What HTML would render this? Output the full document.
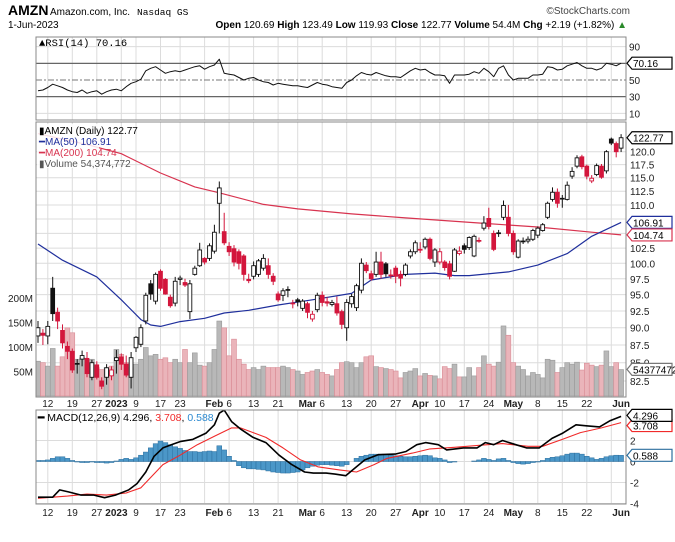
<!DOCTYPE html>
<html><head><meta charset="utf-8"><style>
html,body{margin:0;padding:0;background:#fff;}
svg{display:block;font-family:"Liberation Sans",Arial,sans-serif;}
</style></head><body>
<svg id="chart" width="675" height="542" viewBox="0 0 675 542" xmlns="http://www.w3.org/2000/svg">
<g>
<text x="8" y="15" font-size="14" font-weight="bold">AMZN</text>
<text x="50" y="15" font-size="10" textLength="80" lengthAdjust="spacingAndGlyphs">Amazon.com, Inc.</text>
<text x="137" y="15" font-size="9.5" font-family="Liberation Mono, monospace">Nasdaq GS</text>
<text x="630" y="14" font-size="10" text-anchor="end" fill="#444">©StockCharts.com</text>
<text x="8" y="28" font-size="10">1-Jun-2023</text>
<text x="627" y="28" font-size="10" text-anchor="end"><tspan font-weight="bold">Open</tspan> 120.69 <tspan font-weight="bold">High</tspan> 123.49 <tspan font-weight="bold">Low</tspan> 119.93 <tspan font-weight="bold">Close</tspan> 122.77 <tspan font-weight="bold">Volume</tspan> 54.4M <tspan font-weight="bold">Chg</tspan> +2.19 (+1.82%) <tspan fill="#2a8a2a">▲</tspan></text>
</g>
<g id="rsi"></g>
<g id="price"></g>
<g id="macd"></g>
</svg>
<script>
// ---- data ----
const tickIdx = [2,7,12,16,20,25,29,36,39,44,49,55,58,63,68,73,78,82,87,92,97,102,107,112,119];
const tickLabels = ["12","19","27","2023","9","17","23","Feb","6","13","21","Mar","6","13","20","27","Apr","10","17","24","May","8","15","22","Jun"];
const tickBold = [0,0,0,1,0,0,0,1,0,0,0,1,0,0,0,0,1,0,0,0,1,0,0,0,1];
const gridIdx = [2,7,12,17,20,25,29,34,39,44,49,53,58,63,68,73,78,82,87,92,97,102,107,112,117];

const opens = [88.8,89.2,88.8,96.0,92.3,89.6,87.3,86.6,84.8,85.5, 85.6,83.0,84.7,82.5,83.0,83.2,85.3,85.8,84.8,83.0, 87.1,87.6,91.0,96.7,94.0,98.7,97.4,94.6,93.7,97.4, 96.9,92.4,98.2,99.6,100.8,100.8,102.0,110.3,105.3,102.8, 102.4,101.9,101.2,97.4,97.9,98.2,99.2,99.6,97.9,95.1, 94.9,95.7,93.7,94.2,92.9,93.6,91.3,92.7,94.9,93.9, 93.5,93.6,92.4,90.0,93.6,93.0,95.7,99.7,98.3,98.2, 100.2,99.9,98.1,99.2,98.2,98.2,101.2,101.9,102.3,102.7, 104.0,100.2,100.2,100.2,99.9,98.7,101.6,102.9,102.6,101.2, 103.8,105.9,107.6,105.0,105.1,107.8,107.8,105.0,101.0,103.6, 103.7,104.0,104.7,105.5,107.8,111.0,112.3,111.2,111.0,115.3, 117.2,119.0,117.2,114.4,115.6,117.2,116.3,122.5,121.6,120.7];
const closes = [90.0,88.9,90.2,92.1,91.0,87.8,86.6,84.0,84.9,86.0, 83.5,85.0,83.0,81.8,84.3,84.0,85.7,84.8,83.3,85.7, 88.6,90.0,94.9,95.1,98.2,96.0,95.1,93.3,97.1,97.6, 96.5,96.7,99.2,102.2,100.2,102.9,105.2,113.1,103.4,101.9, 100.2,100.0,98.2,97.2,99.6,100.4,100.8,98.2,97.1,94.2, 95.6,95.8,93.6,93.9,94.0,92.3,92.0,94.9,93.8,93.7, 93.8,92.2,90.5,93.8,94.7,96.4,100.0,98.8,97.5,100.2, 98.2,98.3,98.0,97.9,97.6,99.7,101.9,103.4,102.2,104.0, 100.8,102.2,101.9,99.3,97.9,102.2,102.0,102.3,104.3,104.5, 103.7,106.8,106.2,102.3,105.0,109.9,105.0,101.9,103.7,103.7, 104.0,105.5,105.9,106.5,110.3,112.3,110.3,111.1,113.6,116.2, 118.8,117.1,115.3,114.9,117.3,115.1,120.0,121.7,120.0,122.77];
const highs = [91.0,89.8,91.0,97.8,93.0,90.5,88.0,87.0,85.5,86.7, 86.5,85.4,85.2,83.0,84.8,84.5,86.8,86.3,86.0,86.5, 88.8,90.5,95.3,97.3,98.5,99.0,97.6,95.0,97.8,98.0, 97.5,97.3,99.6,103.4,101.0,103.3,106.5,114.3,108.6,103.5, 103.0,102.3,101.5,98.3,100.3,100.7,101.5,100.8,98.4,95.5, 96.0,96.3,94.2,94.5,94.3,93.9,92.5,95.3,95.5,94.6, 94.2,94.7,92.7,94.3,95.1,96.7,100.8,100.2,98.8,101.9, 101.9,100.2,99.0,99.6,98.8,100.0,102.3,103.8,103.5,104.3, 104.3,102.5,102.5,100.5,100.4,102.5,102.8,103.3,104.5,104.8, 104.3,108.0,109.5,105.5,105.6,110.8,110.0,105.5,104.0,104.3, 104.5,105.8,106.2,106.8,110.6,113.2,113.0,111.8,114.3,117.0, 119.3,119.4,117.5,115.5,117.7,117.6,120.3,122.8,122.0,123.49];
const lows = [87.8,87.5,87.6,91.0,89.8,87.0,85.5,83.6,83.5,84.5, 83.0,82.6,82.7,81.4,82.0,82.6,83.5,84.0,83.0,81.5, 86.5,87.2,90.5,94.2,93.5,95.6,95.0,93.0,93.2,96.5, 96.2,91.3,98.0,99.4,99.8,100.4,101.6,105.0,103.0,101.2, 99.5,99.0,97.2,96.8,97.4,97.8,98.8,97.5,96.5,93.9, 94.0,94.6,92.9,93.2,92.5,91.4,90.9,92.3,93.2,93.2, 93.2,91.8,89.8,88.1,93.0,92.5,95.2,98.4,97.2,97.8, 97.5,97.8,97.5,96.8,96.3,97.9,100.8,101.5,101.7,102.3, 100.5,99.4,99.8,98.8,97.4,98.6,101.3,101.6,102.2,101.0, 103.4,105.5,105.7,102.0,104.4,107.3,104.5,101.4,100.8,103.2, 103.3,103.7,104.2,105.3,107.5,110.6,109.5,109.5,110.8,114.8, 116.8,116.6,114.7,114.0,115.3,114.8,115.8,121.3,118.9,119.93];
const volumes = [71,68,61,97,61,80,139,129,75,78, 65,75,58,54,58,61,95,85,68,58, 65,75,99,82,85,75,78,68,75,68, 95,68,88,63,61,68,95,153,139,82, 116,75,65,54,58,54,61,58,58,58, 61,58,54,51,44,48,51,54,48,44, 41,54,68,70,68,58,68,80,82,60, 58,56,54,51,37,48,51,56,41,46, 42,41,35,60,56,65,39,39,58,41, 58,82,65,61,69,143,124,68,61,54, 41,48,44,37,75,73,48,58,68,65, 69,53,67,63,60,63,92,60,68,54];

const ma50Idx = [0,5,12,17,21,23,25,29,34,38,43,49,56,64,68,75,81,85,88,96,102,108,113,119];
const ma50Val = [103.2,100.5,97.8,94.2,91.2,90.4,90.2,90.9,91.4,92.2,92.6,93.4,94.2,95.2,97.3,98.2,98.4,98.0,98.0,98.6,99.7,101.6,104.5,106.91];
const ma200Idx = [0,10,17,25,32,37,46,53,64,75,90,102,113,119];
const ma200Val = [123.6,121.4,119.6,115.9,113.3,112.2,110.1,109.3,108.4,107.7,106.8,106.1,105.2,104.74];

const rsiVals = [37,38,41,45,43,41,38,36,35,38, 34,36,37,33,36,38,39,37,42,46, 48,51,61,64,66,62,58,60,61,60, 62,64,66,67,63,66,68,75,58,57, 56,53,50,52,53,50,48,47,44,46, 45,44,43,43,42,41,44,47,45,44, 42,41,40,47,50,55,59,57,56,59, 57,55,54,54,53,57,61,64,62,63, 59,56,56,55,46,56,56,56,57,60, 58,64,60,54,64,67,56,50,52,52, 52,56,56,57,66,65,62,63,67,69, 71,67,64,64,62,64,70,69,67,70.16];

const macdIdx = [0,3,4.4,6.2,8.8,11.4,13.6,15.8,18.5,20.2,22,23.7,25.5,27.2,29,31.6,34.3,36,37,38,39.5,41.3,43.9,46.5,49.2,51.8,54.4,56.2,58.8,60.6,62.8,65,66.7,69.4,72.9,75.1,77.3,79.1,81.7,83.4,86.8,89.6,91.3,93,94.8,97.5,99.7,102.3,104.9,107.1,109.8,111.9,114.6,116.8,119];
const macdVal = [-3.4,-3.4,-2.7,-2.9,-3.2,-3.2,-3.45,-3.2,-2.7,-2.1,-1.0,0.5,1.3,1.6,1.9,2.1,2.7,3.5,4.6,4.9,3.8,3.1,2.3,1.8,0.6,-0.3,-1.0,-1.1,-1.1,-1.2,-1.35,-0.5,0.15,0.65,0.7,0.95,1.6,1.8,1.6,1.1,1.3,1.3,1.8,1.6,2.0,1.6,1.3,1.3,2.2,2.7,3.5,3.4,3.3,3.9,4.296];
const sigIdx = [0,6,10,14,18,21,25.5,29,32.5,36,39.5,41.3,46.5,50,53.6,57.1,61.5,65,68.6,71.2,76.4,80,85,90.4,94.8,100,103,107,110.7,115,119];
const sigVal = [-3.5,-3.3,-3.1,-3.2,-3.0,-2.5,-0.3,0.6,1.6,2.4,3.2,3.2,2.3,1.3,0.15,-0.5,-0.8,-1.0,-0.3,0.3,0.8,1.2,1.35,1.55,1.7,1.45,1.45,2.1,2.75,3.2,3.708];
const histVals = [0.1,0.1,0.15,0.3,0.45,0.45,0.3,0.1,-0.05,-0.1, -0.1,-0.05,-0.1,-0.1,-0.15,-0.1,0.05,0.2,0.3,0.2, 0.35,0.6,0.9,1.3,1.7,1.95,1.8,1.6,1.4,1.25, 1.05,0.95,0.95,0.9,0.95,1.0,0.95,1.5,1.1,0.5, 0.1,-0.4,-0.6,-0.7,-0.7,-0.75,-0.8,-0.9,-1.0,-1.05, -1.1,-1.1,-1.05,-1.0,-0.8,-0.6,-0.45,-0.35,-0.3,-0.3, -0.35,-0.4,-0.45,-0.3,0.0,0.3,0.5,0.6,0.7,0.7, 0.7,0.65,0.6,0.55,0.5,0.45,0.45,0.5,0.55,0.6, 0.55,0.35,0.3,0.15,-0.1,-0.05,0.0,0.0,0.0,0.05, 0.15,0.3,0.2,0.1,0.25,0.3,0.1,-0.1,-0.2,-0.25, -0.2,-0.1,-0.05,0.1,0.3,0.4,0.45,0.55,0.7,0.8, 0.8,0.7,0.5,0.35,0.2,0.3,0.45,0.55,0.6,0.588];

const priceTicks = [82.5,85.0,87.5,90.0,92.5,95.0,97.5,100.0,102.5,105.0,107.5,110.0,112.5,115.0,117.5,120.0];
const volTicks = [50,100,150,200];
const rsiTicks = [10,30,50,70,90];
const macdTicks = [-4,-2,0,2];

// ---- scales ----
const NS = "http://www.w3.org/2000/svg";
const L = 36, R = 626;
const xOf = i => 38 + 4.9 * i;
const yPrice = p => 151.7 + (Math.log10(120) - Math.log10(p)) * 1409;
const yVol = v => 396 - v * 0.49;
const yRsi = r => 80 - (r - 50) * 0.833;
const yMacd = m => 461.5 - m * 10.5;

function mk(tag, attrs, parent, text) {
  const e = document.createElementNS(NS, tag);
  for (const k in attrs) e.setAttribute(k, attrs[k]);
  if (text !== undefined) e.textContent = text;
  parent.appendChild(e);
  return e;
}
const svg = document.getElementById('chart');
const gR = document.getElementById('rsi'), gP = document.getElementById('price'), gM = document.getElementById('macd');
const defs = mk('defs', {}, svg);
const cp1 = mk('clipPath', {id: 'clipP'}, defs); mk('rect', {x: L, y: 122, width: R - L, height: 275}, cp1);
const cp2 = mk('clipPath', {id: 'clipM'}, defs); mk('rect', {x: L, y: 410, width: R - L, height: 94}, cp2);

function vgrid(g, y1, y2) {
  gridIdx.forEach(i => {
    const l = mk('line', {x1: xOf(i), x2: xOf(i), y1: y1, y2: y2, stroke: '#dcdcdc', 'stroke-width': 1}, g);
    
    
  });
}
function frame(g, y1, y2, name) {
  const r = mk('rect', {x: L, y: y1, width: R - L, height: y2 - y1, fill: 'none', stroke: '#888', 'stroke-width': 1}, g);
  
  
}
function polyline(g, idx, vals, yf, color, w, name, clip) {
  const pts = idx.map((i, k) => xOf(i).toFixed(1) + ',' + yf(vals[k]).toFixed(1)).join(' ');
  const pl = mk('polyline', {points: pts, fill: 'none', stroke: color, 'stroke-width': w, 'stroke-linejoin': 'round'}, g);
  if (clip) pl.setAttribute('clip-path', clip);
  
  
}
function valueBox(g, y, text, color, name) {
  const grp = mk('g', {}, g);
  
  
  mk('path', {d: `M627 ${y} L632 ${y-6} L672 ${y-6} L672 ${y+6} L632 ${y+6} Z`, fill: '#fff', stroke: color, 'stroke-width': 1.2}, grp);
  mk('text', {x: 633, y: y + 4, 'font-size': 10, fill: '#000'}, grp, text);
}
function dateAxis(g, y, name) {
  const grp = mk('g', {}, g);
  
  
  tickIdx.forEach((i, k) => {
    const t = mk('text', {x: xOf(i), y: y, 'font-size': 10, 'text-anchor': 'middle', 'font-weight': tickBold[k] ? 'bold' : 'normal', fill: '#222'}, grp, tickLabels[k]);
    
    
  });
}

// ---- RSI panel ----
vgrid(gR, 37, 120);
rsiTicks.forEach(r => {
  const isRef = (r === 30 || r === 70);
  const l = mk('line', {x1: L, x2: R, y1: yRsi(r), y2: yRsi(r), stroke: isRef ? '#666' : (r === 50 ? '#777' : '#dcdcdc'), 'stroke-width': isRef ? 1.2 : 1, 'stroke-dasharray': r === 50 ? '6,2,2,2' : 'none'}, gR);
  
  
  if (r !== 70) {
    const t = mk('text', {x: 629, y: yRsi(r) + 4, 'font-size': 10, fill: '#222'}, gR, String(r));
    
    
  }
});
frame(gR, 37, 120, 'rsi-frame');
polyline(gR, rsiVals.map((v, i) => i), rsiVals, yRsi, '#111', 1, 'rsi-line');
valueBox(gR, yRsi(70.16), '70.16', '#000', 'rsi-value-box');
{
  const t = mk('text', {x: 39, y: 46, 'font-size': 10.5, 'font-family': 'Liberation Mono, monospace'}, gR, '▲RSI(14) 70.16');
  
  
}

// ---- Price panel ----
vgrid(gP, 122, 397);
priceTicks.forEach(p => {
  const l = mk('line', {x1: L, x2: R, y1: yPrice(p), y2: yPrice(p), stroke: '#dcdcdc', 'stroke-width': 1}, gP);
  
  
  const t = mk('text', {x: 630, y: yPrice(p) + 4, 'font-size': 10, fill: '#222'}, gP, p.toFixed(1));
  
  
});
volTicks.forEach(v => {
  const t = mk('text', {x: 33, y: yVol(v) + 4, 'font-size': 10, 'text-anchor': 'end', fill: '#222'}, gP, v + 'M');
  
  
});
const gVol = mk('g', {'clip-path': 'url(#clipP)'}, gP);
volumes.forEach((v, i) => {
  const down = i > 0 && closes[i] < closes[i - 1];
  const b = mk('rect', {x: xOf(i) - 2.45, y: yVol(v), width: 4.9, height: v * 0.49, fill: down ? '#eab4ba' : '#b8b8b8', stroke: down ? '#d98a94' : '#999', 'stroke-width': 0.6}, gVol);
  
  
});
polyline(gP, ma200Idx, ma200Val, yPrice, '#d8334f', 1.2, 'ma200-line', 'url(#clipP)');
polyline(gP, ma50Idx, ma50Val, yPrice, '#1f2f9c', 1.2, 'ma50-line', 'url(#clipP)');
const gC = mk('g', {'clip-path': 'url(#clipP)'}, gP);
opens.forEach((o, i) => {
  const c = closes[i];
  const down = i > 0 && c < closes[i - 1];
  const col = down ? '#d3163c' : '#111';
  const x = xOf(i);
  const g = mk('g', {}, gC);
  
  
  mk('line', {x1: x, x2: x, y1: yPrice(highs[i]), y2: yPrice(lows[i]), stroke: col, 'stroke-width': 1}, g);
  const yt = yPrice(Math.max(o, c)), yb = yPrice(Math.min(o, c));
  mk('rect', {x: x - 1.9, y: yt, width: 3.8, height: Math.max(0.8, yb - yt), fill: c < o ? col : '#fff', stroke: col, 'stroke-width': 0.9}, g);
});
frame(gP, 122, 397, 'price-frame');
{
  const lg = mk('g', {}, gP);
  
  
  mk('rect', {x: 37, y: 124, width: 62, height: 44, fill: '#fff', opacity: 0.85}, lg);
  mk('text', {x: 39, y: 134, 'font-size': 10}, lg, '▮AMZN (Daily) 122.77');
  mk('text', {x: 39, y: 145, 'font-size': 10, fill: '#1f2f9c'}, lg, '━MA(50) 106.91');
  mk('text', {x: 39, y: 156, 'font-size': 10, fill: '#d8334f'}, lg, '━MA(200) 104.74');
  mk('text', {x: 39, y: 167, 'font-size': 10, fill: '#555'}, lg, '▮Volume 54,374,772');
}
valueBox(gP, yPrice(122.77), '122.77', '#000', 'close-value-box');
valueBox(gP, yPrice(106.91), '106.91', '#1f2f9c', 'ma50-value-box');
valueBox(gP, yPrice(104.74), '104.74', '#d8334f', 'ma200-value-box');
valueBox(gP, yVol(54.37), '54377472', '#777', 'volume-value-box');
dateAxis(gP, 407, 'price-date-axis');

// ---- MACD panel ----
vgrid(gM, 410, 504);
macdTicks.forEach(m => {
  const l = mk('line', {x1: L, x2: R, y1: yMacd(m), y2: yMacd(m), stroke: '#dcdcdc', 'stroke-width': 1}, gM);
  
  
  const t = mk('text', {x: 630, y: yMacd(m) + 4, 'font-size': 10, fill: '#222'}, gM, String(m));
  
  
});
const gH = mk('g', {'clip-path': 'url(#clipM)'}, gM);
histVals.forEach((h, i) => {
  const y0 = yMacd(0), y1 = yMacd(h);
  const b = mk('rect', {x: xOf(i) - 2.45, y: Math.min(y0, y1), width: 4.9, height: Math.abs(y1 - y0), fill: '#4b97c8', stroke: '#2c6f9e', 'stroke-width': 0.5}, gH);
  
  
});
polyline(gM, sigIdx, sigVal, yMacd, '#f02a2a', 1.1, 'macd-signal-line', 'url(#clipM)');
polyline(gM, macdIdx, macdVal, yMacd, '#000', 1.6, 'macd-line', 'url(#clipM)');
frame(gM, 410, 504, 'macd-frame');
{
  const t = mk('text', {x: 38, y: 421, 'font-size': 10.5}, gM);
  
  
  t.innerHTML = '<tspan font-weight="bold">━</tspan> MACD(12,26,9) 4.296, <tspan fill="#f02a2a">3.708</tspan>, <tspan fill="#2c8ad0">0.588</tspan>';
}
valueBox(gM, yMacd(3.708) + 3, '3.708', '#f02a2a', 'signal-value-box');
valueBox(gM, yMacd(4.296) - 1, '4.296', '#000', 'macd-value-box');
valueBox(gM, yMacd(0.588), '0.588', '#2c6f9e', 'histogram-value-box');
dateAxis(gM, 516, 'macd-date-axis');
</script>
</body></html>
